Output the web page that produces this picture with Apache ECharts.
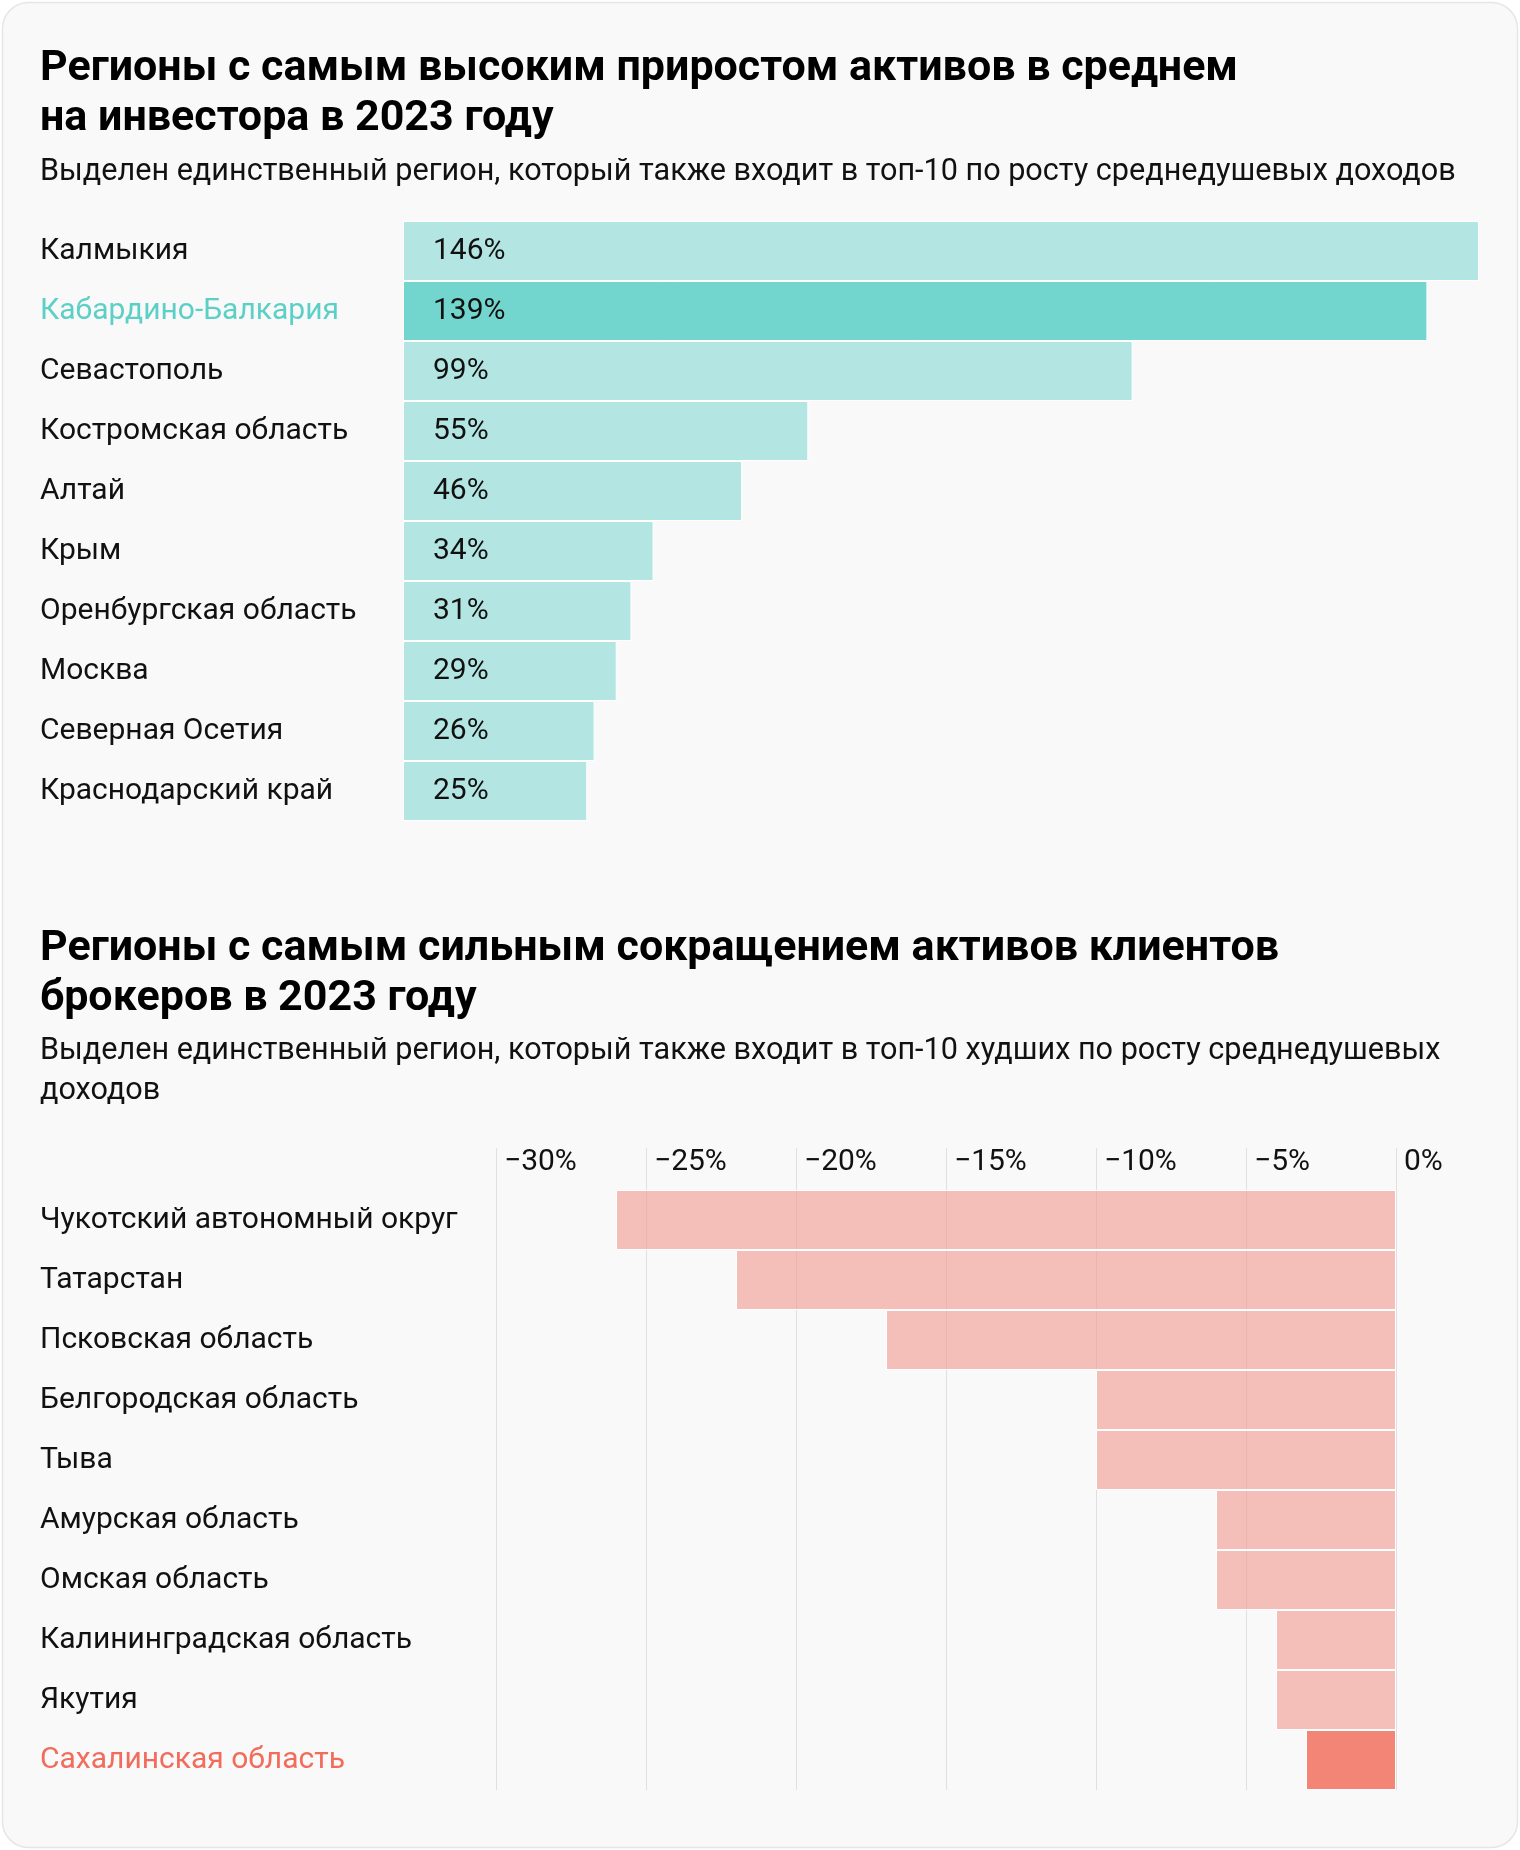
<!DOCTYPE html>
<html>
<head>
<meta charset="utf-8">
<script src="https://cdn.jsdelivr.net/npm/echarts@6/dist/echarts.min.js"></script>
<style>
html,body{margin:0;padding:0;background:#ffffff;}
#chart{width:1520px;height:1850px;}
</style>
</head>
<body>
<div id="chart"></div>
<script>
// ---- Data ----
var topTitle = 'Регионы с самым высоким приростом активов в среднем\nна инвестора в 2023 году';
var topSubtitle = 'Выделен единственный регион, который также входит в топ-10 по росту среднедушевых доходов';
var topCategories = ['Калмыкия', 'Кабардино-Балкария', 'Севастополь', 'Костромская область', 'Алтай', 'Крым', 'Оренбургская область', 'Москва', 'Северная Осетия', 'Краснодарский край'];
var topValues = [146, 139, 99, 55, 46, 34, 31, 29, 26, 25];
var topHighlight = 'Кабардино-Балкария';

var bottomTitle = 'Регионы с самым сильным сокращением активов клиентов\nброкеров в 2023 году';
var bottomSubtitle = 'Выделен единственный регион, который также входит в топ-10 худших по росту среднедушевых\nдоходов';
var bottomCategories = ['Чукотский автономный округ', 'Татарстан', 'Псковская область', 'Белгородская область', 'Тыва', 'Амурская область', 'Омская область', 'Калининградская область', 'Якутия', 'Сахалинская область'];
var bottomValues = [-26, -22, -17, -10, -10, -6, -6, -4, -4, -3];
var bottomHighlight = 'Сахалинская область';
var bottomTickLabels = ['−30%', '−25%', '−20%', '−15%', '−10%', '−5%', '0%'];
var bottomTickValues = [-30, -25, -20, -15, -10, -5, 0];

// ---- Styles ----
var FONT = 'Roboto, "Noto Sans", sans-serif';
var FS = 30, FS_SUB = 30.6, FS_TITLE = 43;
var TEAL = '#b3e6e2', TEAL_HI = '#72d6cf', TEAL_TXT = '#5ccfc6';
var PINK = 'rgba(242,152,142,0.6)', PINK_HI = '#f38576', PINK_TXT = '#f26b5b';
var GRID_COLOR = '#e0e0e0';
var TXT = '#111111';

var chart = echarts.init(document.getElementById('chart'), null, {renderer: 'canvas'});

function catData(cats, hi, hiColor) {
  return cats.map(function (c) {
    return c === hi ? {value: c, textStyle: {color: hiColor, align: 'left', fontSize: FS, fontFamily: FONT}} : c;
  });
}
function barData(cats, vals, hi, color, hiColor) {
  return vals.map(function (v, i) {
    return {value: v, itemStyle: {color: cats[i] === hi ? hiColor : color}};
  });
}

var option = {
  backgroundColor: 'transparent',
  textStyle: {fontFamily: FONT},
  graphic: [{
    type: 'rect', z: -10, silent: true,
    shape: {x: 2.5, y: 2.5, width: 1515, height: 1845, r: 26},
    style: {fill: '#f9f9f9', stroke: '#e6e6e6', lineWidth: 1.5}
  }],
  title: [
    {text: topTitle, left: 40, top: 44, padding: 0,
     textStyle: {fontFamily: FONT, fontSize: FS_TITLE, fontWeight: 'bold', color: '#000', lineHeight: 50}},
    {text: topSubtitle, left: 40, top: 152, padding: 0,
     textStyle: {fontFamily: FONT, fontSize: FS_SUB, fontWeight: 'normal', color: TXT, lineHeight: 40}},
    {text: bottomTitle, left: 40, top: 924, padding: 0,
     textStyle: {fontFamily: FONT, fontSize: FS_TITLE, fontWeight: 'bold', color: '#000', lineHeight: 50}},
    {text: bottomSubtitle, left: 40, top: 1031, padding: 0,
     textStyle: {fontFamily: FONT, fontSize: FS_SUB, fontWeight: 'normal', color: TXT, lineHeight: 40}}
  ],
  grid: [
    {left: 403, top: 221, width: 1076, height: 600, containLabel: false, outerBoundsMode: 'none'},
    {left: 496, top: 1190, width: 900, height: 600, containLabel: false, outerBoundsMode: 'none'}
  ],
  xAxis: [
    {gridIndex: 0, type: 'value', min: 0, max: 146, show: false},
    {gridIndex: 1, type: 'value', min: -30, max: 0, interval: 5, position: 'top',
     axisLine: {show: false},
     axisTick: {show: true, inside: false, length: 42, lineStyle: {color: GRID_COLOR, width: 1}},
     splitLine: {show: true, lineStyle: {color: GRID_COLOR, width: 1}},
     axisLabel: {
       show: true, margin: 28, align: 'left', verticalAlign: 'middle', padding: [0, 0, 0, 8],
       fontFamily: FONT, fontSize: FS, color: TXT,
       formatter: function (v) {
         var idx = bottomTickValues.indexOf(v);
         return idx >= 0 ? bottomTickLabels[idx] : '';
       }
     }}
  ],
  yAxis: [
    {gridIndex: 0, type: 'category', inverse: true, data: catData(topCategories, topHighlight, TEAL_TXT),
     axisLine: {show: false}, axisTick: {show: false}, splitLine: {show: false},
     axisLabel: {margin: 363, align: 'left', fontFamily: FONT, fontSize: FS, color: TXT}},
    {gridIndex: 1, type: 'category', inverse: true, data: catData(bottomCategories, bottomHighlight, PINK_TXT),
     axisLine: {show: false}, axisTick: {show: false}, splitLine: {show: false},
     axisLabel: {margin: 456, align: 'left', fontFamily: FONT, fontSize: FS, color: TXT}}
  ],
  series: [
    {type: 'bar', xAxisIndex: 0, yAxisIndex: 0, barCategoryGap: 0,
     data: barData(topCategories, topValues, topHighlight, TEAL, TEAL_HI),
     itemStyle: {borderColor: '#ffffff', borderWidth: 1},
     label: {show: true, position: 'insideLeft', distance: 30, formatter: '{c}%',
             fontFamily: FONT, fontSize: FS, color: TXT},
     silent: true, animation: false},
    {type: 'bar', xAxisIndex: 1, yAxisIndex: 1, barCategoryGap: 0,
     data: barData(bottomCategories, bottomValues, bottomHighlight, PINK, PINK_HI),
     itemStyle: {borderColor: '#ffffff', borderWidth: 1},
     label: {show: false},
     silent: true, animation: false}
  ]
};
chart.setOption(option);
</script>
</body>
</html>
